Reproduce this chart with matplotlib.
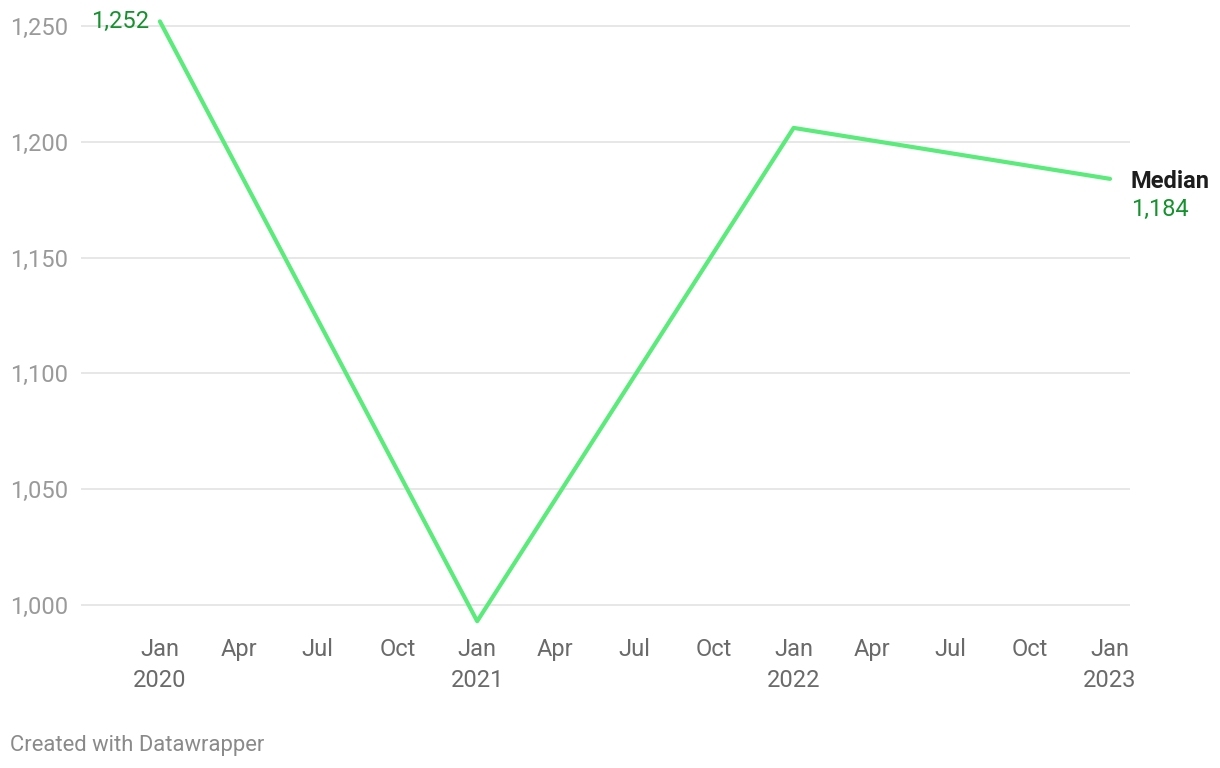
import matplotlib
matplotlib.use("Agg")
import matplotlib.pyplot as plt
from datetime import datetime, timedelta

plt.rcParams['font.family'] = ['Roboto', 'DejaVu Sans']

dates = ["2020-01-01", "2021-01-01", "2022-01-01", "2023-01-01"]
values = [1252, 993, 1206, 1184]
series_name = "Median"
yticks = [1000, 1050, 1100, 1150, 1200, 1250]
xtick_dates = ["2020-01-01", "2020-04-01", "2020-07-01", "2020-10-01",
               "2021-01-01", "2021-04-01", "2021-07-01", "2021-10-01",
               "2022-01-01", "2022-04-01", "2022-07-01", "2022-10-01",
               "2023-01-01"]
xtick_labels = ["Jan\n2020", "Apr", "Jul", "Oct", "Jan\n2021", "Apr", "Jul", "Oct",
                "Jan\n2022", "Apr", "Jul", "Oct", "Jan\n2023"]

W, H = 1220, 768
fig = plt.figure(figsize=(W / 100, H / 100), dpi=100)
left_px, right_px, top_px, bot_px = 81, 1130, 10, 630
ax = fig.add_axes([left_px / W, 1 - bot_px / H, (right_px - left_px) / W, (bot_px - top_px) / H])

x = [datetime.strptime(d, "%Y-%m-%d") for d in dates]
xt = [datetime.strptime(d, "%Y-%m-%d") for d in xtick_dates]

line_color = "#5aeb7b"
label_green = "#15922e"
fs = 17

ax.plot(x, values, color=line_color, lw=3.0, solid_joinstyle="round",
        solid_capstyle="round", clip_on=False, zorder=3)

ax.set_xlim(x[0] - timedelta(days=91), x[-1] + timedelta(days=23))
ax.set_ylim(1000 - 25 / 2.316, 1250 + 16 / 2.316)

ax.set_yticks(yticks)
ax.set_yticklabels([f"{v:,}" for v in yticks])
ax.set_xticks(xt)
ax.set_xticklabels(xtick_labels, linespacing=1.45)

for s in ax.spines.values():
    s.set_visible(False)
ax.grid(axis="y", color="#e3e3e3", lw=1.2, zorder=0)
ax.grid(axis="x", visible=False)
ax.tick_params(axis="y", length=0, pad=9.5, labelsize=fs, labelcolor="#9a9a9a")
ax.tick_params(axis="x", length=0, pad=5.5, labelsize=fs, labelcolor="#6a6a6a")

ax.annotate(f"{values[0]:,}", xy=(x[0], values[0]), xytext=(-7.5, 0),
            textcoords="offset points", ha="right", va="center",
            fontsize=fs, color=label_green)
ax.annotate(series_name, xy=(x[-1], values[-1]), xytext=(15, -2),
            textcoords="offset points", ha="left", va="center",
            fontsize=fs, fontweight="bold", color="#1d1d1d", annotation_clip=False)
ax.annotate(f"{values[-1]:,}", xy=(x[-1], values[-1]), xytext=(15, -22),
            textcoords="offset points", ha="left", va="center",
            fontsize=fs, color=label_green, annotation_clip=False)

fig.text(10 / W, 1 - 745 / H, "Created with Datawrapper", ha="left", va="center",
         fontsize=15.8, color="#8a8a8a")

fig.savefig("out.png", dpi=100)
